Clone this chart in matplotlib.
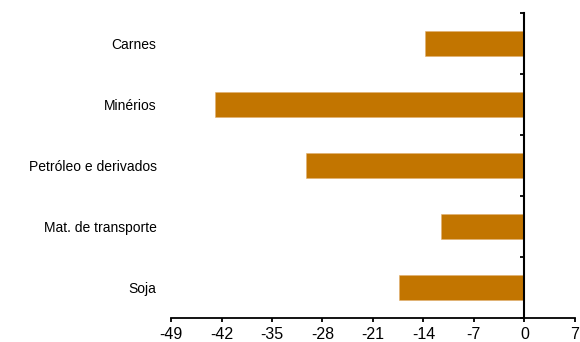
import matplotlib.pyplot as plt
from matplotlib.ticker import FixedLocator

plt.rcParams["font.family"] = ["Liberation Sans", "DejaVu Sans"]

categories = ["Carnes", "Minérios", "Petróleo e derivados", "Mat. de transporte", "Soja"]
values = [-13.8, -42.9, -30.3, -11.5, -17.4]
xticks = [-49, -42, -35, -28, -21, -14, -7, 0, 7]

fig = plt.figure(figsize=(5.8, 3.42), dpi=100)
ax = fig.add_axes([0.295, 0.070, 0.696, 0.892])

pos = list(range(len(categories)))
ax.barh(pos, values, height=0.42, color="#C27500", edgecolor="#E0B070", linewidth=0.4)

ax.set_ylim(len(categories) - 0.5, -0.5)
ax.set_xlim(-49, 7)
ax.set_xticks(xticks)
ax.set_xticklabels([str(t) for t in xticks], fontsize=11.5)
ax.set_yticks(pos)
ax.set_yticklabels(categories, fontsize=11)
ax.yaxis.set_minor_locator(FixedLocator([p + 0.5 for p in range(-1, len(categories))]))

ax.spines["top"].set_visible(False)
ax.spines["left"].set_visible(False)
ax.spines["right"].set_position(("data", 0))
ax.spines["right"].set_linewidth(1.5)
ax.spines["bottom"].set_linewidth(1.3)

ax.tick_params(axis="y", which="major", left=False, right=False, pad=7)
ax.tick_params(axis="y", which="minor", left=False, right=True, direction="in", length=3, width=1.3)
ax.tick_params(axis="x", direction="out", length=3, width=1.3, pad=3.5)

fig.savefig("out.png", dpi=100)
